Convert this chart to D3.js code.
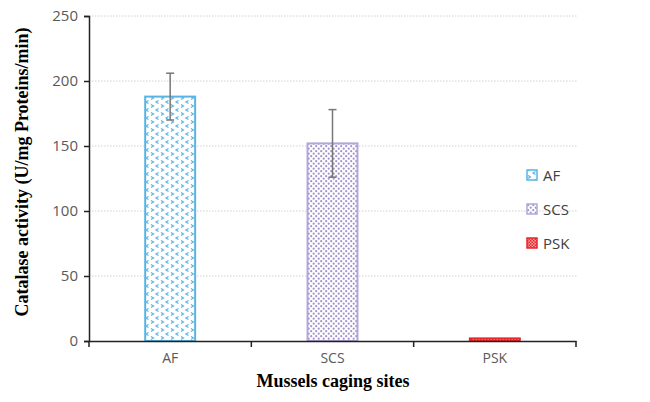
<!DOCTYPE html>
<html>
<head>
<meta charset="utf-8">
<script src="https://cdn.jsdelivr.net/npm/d3@7"></script>
<style>
body { margin: 0; background: #fff; }
</style>
</head>
<body>
<div class="container"></div>
<script>
var sites = ["AF", "SCS", "PSK"];
var catalase = [188, 152, 2];
var errors = [18, 26, 0];
var yTicks = [0, 50, 100, 150, 200, 250];

var W = 650, H = 402;
var m = {left: 89, right: 74, top: 16, bottom: 61};

var svg = d3.select(".container").append("svg")
	.attr("width", W)
	.attr("height", H);

var defs = svg.append("defs");

// AF: small blue chevrons
var pAF = defs.append("pattern").attr("id", "pAF")
	.attr("patternUnits", "userSpaceOnUse").attr("width", 10).attr("height", 8);
pAF.append("rect").attr("width", 10).attr("height", 8).attr("fill", "#fff");
pAF.append("path").attr("d", "M1,0.5 L3.5,2 L1,3.5").attr("fill", "none").attr("stroke", "#5ab4e3").attr("stroke-width", 1.2);
pAF.append("path").attr("d", "M8.5,4.5 L6,6 L8.5,7.5").attr("fill", "none").attr("stroke", "#5ab4e3").attr("stroke-width", 1.2);

// SCS: purple dots
var pSCS = defs.append("pattern").attr("id", "pSCS")
	.attr("patternUnits", "userSpaceOnUse").attr("width", 5).attr("height", 5);
pSCS.append("rect").attr("width", 5).attr("height", 5).attr("fill", "#fff");
pSCS.append("circle").attr("cx", 1.2).attr("cy", 1.2).attr("r", 1.1).attr("fill", "#a193cc");
pSCS.append("circle").attr("cx", 3.7).attr("cy", 3.7).attr("r", 1.1).attr("fill", "#a193cc");

// PSK: red checker
var pPSK = defs.append("pattern").attr("id", "pPSK")
	.attr("patternUnits", "userSpaceOnUse").attr("width", 3).attr("height", 3);
pPSK.append("rect").attr("width", 3).attr("height", 3).attr("fill", "#f7a0a0");
pPSK.append("rect").attr("width", 1.5).attr("height", 1.5).attr("fill", "#e8262a");
pPSK.append("rect").attr("x", 1.5).attr("y", 1.5).attr("width", 1.5).attr("height", 1.5).attr("fill", "#e8262a");

var fills = ["url(#pAF)", "url(#pSCS)", "url(#pPSK)"];
var strokes = ["#5ab4e3", "#b3a6d8", "#e8262a"];

var x = d3.scaleBand()
	.domain(sites)
	.range([m.left, W - m.right])
	.paddingInner(0.68)
	.paddingOuter(0.34);

var y = d3.scaleLinear()
	.domain([0, 250])
	.range([H - m.bottom, m.top]);

// gridlines
svg.append("g").selectAll("line")
	.data(yTicks.filter(function(d) { return d > 0; }))
	.enter().append("line")
	.attr("x1", m.left).attr("x2", W - m.right + 1)
	.attr("y1", function(d) { return y(d); })
	.attr("y2", function(d) { return y(d); })
	.attr("stroke", "#d0d0d0")
	.attr("stroke-width", 1)
	.attr("stroke-dasharray", "1.5,1.5");

// bars
svg.append("g").selectAll("rect")
	.data(catalase)
	.enter().append("rect")
	.attr("x", function(d, i) { return x(sites[i]) + 1; })
	.attr("y", function(d) { return y(d); })
	.attr("width", x.bandwidth() - 2)
	.attr("height", function(d) { return y(0) - y(d); })
	.attr("fill", function(d, i) { return fills[i]; })
	.attr("stroke", function(d, i) { return strokes[i]; })
	.attr("stroke-width", 2);

// error bars
var eb = svg.append("g").selectAll("g")
	.data(catalase)
	.enter().append("g")
	.filter(function(d, i) { return errors[i] > 0; });
eb.append("line")
	.attr("x1", function(d, i) { return x(sites[i]) + x.bandwidth() / 2; })
	.attr("x2", function(d, i) { return x(sites[i]) + x.bandwidth() / 2; })
	.attr("y1", function(d, i) { return y(d + errors[i]); })
	.attr("y2", function(d, i) { return y(d - errors[i]); })
	.attr("stroke", "#777").attr("stroke-width", 1.5);
[1, -1].forEach(function(s) {
	eb.append("line")
		.attr("x1", function(d, i) { return x(sites[i]) + x.bandwidth() / 2 - 4; })
		.attr("x2", function(d, i) { return x(sites[i]) + x.bandwidth() / 2 + 4; })
		.attr("y1", function(d, i) { return y(d + s * errors[i]); })
		.attr("y2", function(d, i) { return y(d + s * errors[i]); })
		.attr("stroke", "#777").attr("stroke-width", 1.5);
});

// y axis
var yAxis = svg.append("g")
	.attr("transform", "translate(" + m.left + ",0)")
	.call(d3.axisLeft(y).tickValues(yTicks).tickSize(5).tickPadding(6));
yAxis.select(".domain").attr("stroke", "#222").attr("stroke-width", 1.5);
yAxis.selectAll(".tick line").attr("stroke", "#222").attr("stroke-width", 1.5);
yAxis.selectAll("text")
	.attr("fill", "#595959")
	.style("font-family", "'Open Sans', 'Liberation Sans', sans-serif")
	.style("font-size", "15px");

// x axis
var xAxis = svg.append("g")
	.attr("transform", "translate(0," + y(0) + ")")
	.call(d3.axisBottom(x).tickSize(0).tickPadding(12));
xAxis.select(".domain").attr("stroke", "#222").attr("stroke-width", 1.5);
xAxis.selectAll("text")
	.attr("fill", "#595959")
	.style("font-family", "'Open Sans', 'Liberation Sans', sans-serif")
	.style("font-size", "14px");
var step = x.step();
xAxis.selectAll(".sep")
	.data(d3.range(sites.length + 1))
	.enter().append("line")
	.attr("x1", function(d) { return m.left + d * step; })
	.attr("x2", function(d) { return m.left + d * step; })
	.attr("y1", 0).attr("y2", 6)
	.attr("stroke", "#222").attr("stroke-width", 1.5);

// axis titles
svg.append("text")
	.attr("x", 333)
	.attr("y", 387)
	.attr("text-anchor", "middle")
	.style("font-family", "'Liberation Serif', 'Times New Roman', serif")
	.style("font-weight", "bold")
	.style("font-size", "18px")
	.text("Mussels caging sites");

svg.append("text")
	.attr("transform", "translate(28," + 172 + ") rotate(-90)")
	.attr("text-anchor", "middle")
	.style("font-family", "'Liberation Serif', 'Times New Roman', serif")
	.style("font-weight", "bold")
	.style("font-size", "18px")
	.text("Catalase activity (U/mg Proteins/min)");

// legend
var leg = svg.append("g").selectAll("g")
	.data(sites)
	.enter().append("g")
	.attr("transform", function(d, i) { return "translate(527," + (175 + i * 34) + ")"; });
leg.append("rect")
	.attr("x", 0).attr("y", -5)
	.attr("width", 10).attr("height", 10)
	.attr("fill", function(d, i) { return fills[i]; })
	.attr("stroke", function(d, i) { return strokes[i]; })
	.attr("stroke-width", 1.5);
leg.append("text")
	.attr("x", 16).attr("y", 5.5)
	.attr("fill", "#404040")
	.style("font-family", "'Open Sans', 'Liberation Sans', sans-serif")
	.style("font-size", "15px")
	.text(function(d) { return d; });
</script>
</body>
</html>
